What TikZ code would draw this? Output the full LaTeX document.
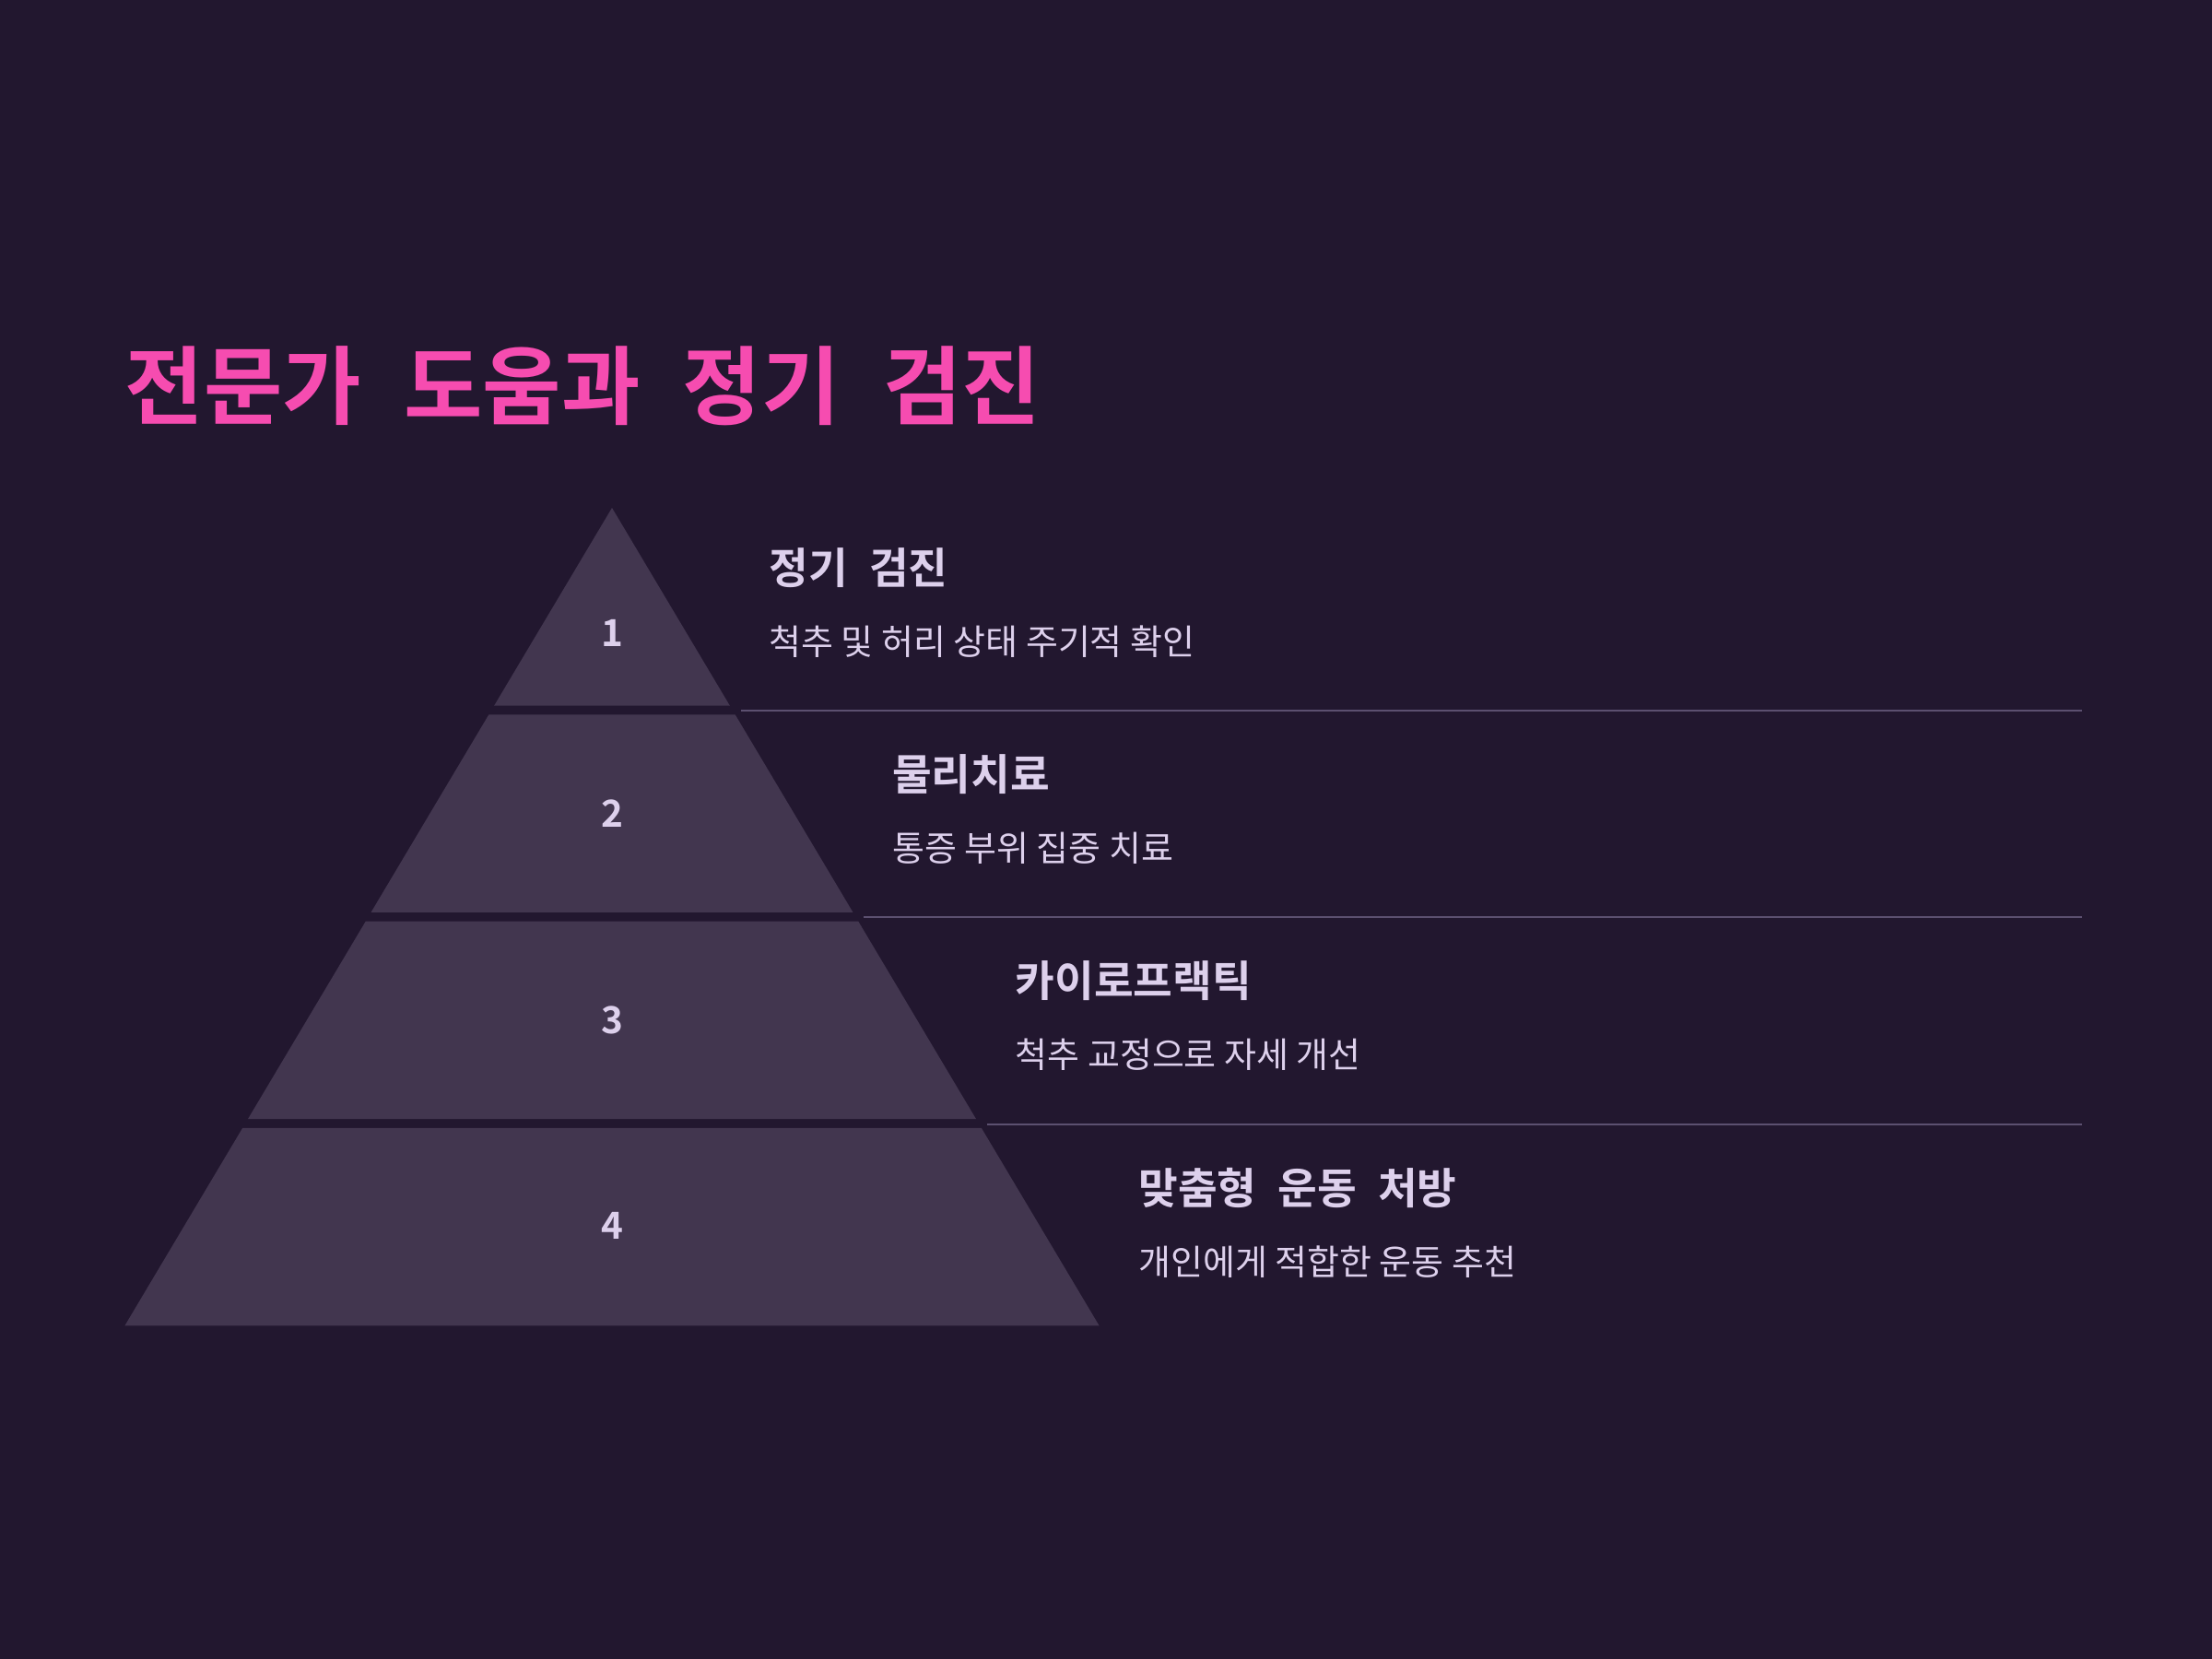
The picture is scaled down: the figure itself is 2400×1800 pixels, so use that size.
\documentclass[tikz,border=0pt]{standalone}
\usepackage{fontspec}
\setmainfont{Noto Sans CJK KR}
\newfontfamily\krbold{Noto Sans CJK KR Bold}[WordSpace=2.2]
\definecolor{bgpurple}{HTML}{22172F}
\definecolor{layerpurple}{HTML}{42364F}
\definecolor{linepurple}{HTML}{5C5070}
\definecolor{lavender}{HTML}{DDD0EC}
\definecolor{titlepink}{HTML}{F64CB0}

\begin{document}
\begin{tikzpicture}[
  x=0.01cm,y=-0.01cm,
  layer/.style={fill=layerpurple},
  sepline/.style={draw=linepurple, line width=0.6pt},
  num/.style={text=lavender, inner sep=0pt, font=\krbold\fontsize{11.5}{13}\selectfont},
  head/.style={anchor=west, inner sep=0pt, text=lavender, font=\krbold\fontsize{13.2}{16}\selectfont},
  desc/.style={anchor=west, inner sep=0pt, text=lavender, font=\fontsize{10.8}{13}\selectfont}
]
\fill[bgpurple] (0,0) rectangle (2400,1800);
\useasboundingbox (0,0) rectangle (2400,1800);

\node[anchor=west, inner sep=0pt, text=titlepink, font=\krbold\fontsize{26.4}{30}\selectfont] (title) at (135,419) {전문가 도움과 정기 검진};

% pyramid layers with their labels
\foreach \i/\ny/\lhead/\ldesc in {
  1/687/정기 검진/척추 및 허리 상태 주기적 확인,
  2/883/물리치료/통증 부위 집중 치료,
  3/1107/카이로프랙틱/척추 교정으로 자세 개선,
  4/1330/맞춤형 운동 처방/개인에게 적합한 운동 추천}
{
  \pgfmathsetmacro\ltop{551+224.3*(\i-1)}
  \pgfmathsetmacro\lbot{\ltop+214.5}
  \pgfmathsetmacro\hwt{(\ltop-551)*0.5957}
  \pgfmathsetmacro\hwb{(\lbot-551)*0.5957}
  \fill[layer] ({664-\hwt},\ltop) -- ({664+\hwt},\ltop) -- ({664+\hwb},\lbot) -- ({664-\hwb},\lbot) -- cycle;
  \node[num] (num\i) at (664,\ny) {\i};
  \node[head] (head\i) at ({706+\hwb},{\ltop+65}) {\lhead};
  \node[desc] (desc\i) at ({706+\hwb},{\ltop+145}) {\ldesc};
  \ifnum\i<4
    \draw[sepline] ({676+\hwb},{\lbot+5.5}) -- (2259,{\lbot+5.5});
  \fi
}
\end{tikzpicture}
\end{document}
